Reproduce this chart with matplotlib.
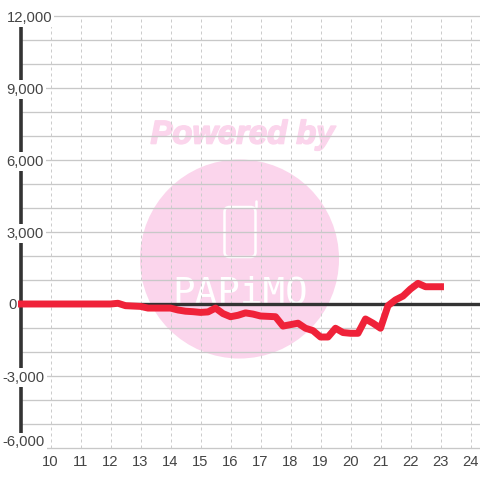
import matplotlib
matplotlib.use("Agg")
import matplotlib.pyplot as plt
import matplotlib.patheffects as pe
from matplotlib.patches import Circle, FancyBboxPatch

plt.rcParams['font.family'] = ['Liberation Sans', 'DejaVu Sans']

# data
hours = [9, 10, 11, 12, 12.25, 12.5, 13, 13.25, 13.5, 14, 14.25, 14.5, 14.75, 15, 15.25, 15.5,
         15.75, 16, 16.25, 16.5, 16.75, 17, 17.5, 17.75, 18.25, 18.5, 18.75, 19, 19.25, 19.5,
         19.75, 20, 20.25, 20.5, 20.75, 21, 21.25, 21.5, 21.75, 22, 22.25, 22.5, 22.75, 23]
values = [0, 0, 0, 0, 30, -70, -100, -170, -170, -170, -250, -300, -320, -350, -330, -170,
          -400, -530, -470, -370, -420, -500, -530, -920, -800, -1010, -1110, -1375, -1375, -1010,
          -1190, -1220, -1220, -625, -800, -1010, -70, 170, 330, 625, 860, 720, 720, 720]
x_ticks = list(range(10, 25))
y_grid = list(range(-6000, 12001, 1000))
y_ticks = [12000, 9000, 6000, 3000, 0, -3000, -6000]
y_labels = ['12,000', '9,000', '6,000', '3,000', '0', '-3,000', '-6,000']
y_label_px = [6.5, 6.5, 6.5, 6.5, 8, 2.5, 2.5]
y_label_shift = [1.5, 1.5, 1.5, 1.5, 1, 1.5, -6]

fig = plt.figure(figsize=(4.8, 4.8), dpi=100)

# watermark layer in pixel coordinates
bg = fig.add_axes([0, 0, 1, 1])
bg.set_xlim(0, 480)
bg.set_ylim(480, 0)
bg.axis('off')
pink = '#fbd5ec'
bg.add_patch(Circle((239.5, 259), 99.5, color=pink, lw=0))
bg.text(242.5, 135, 'Powered by', color=pink, fontsize=23.6, fontweight='bold', style='italic',
        ha='center', va='center', family='Liberation Sans',
        path_effects=[pe.withStroke(linewidth=1.2, foreground=pink)])
bg.add_patch(FancyBboxPatch((224.5, 207), 31, 50, boxstyle='round,pad=0,rounding_size=5',
                            fc='none', ec='white', lw=1.8))
bg.plot([255.5, 255.5], [207, 200.5], color='white', lw=1.8, solid_capstyle='round')
bg.text(240, 303, 'PAPiMO', color='white', fontsize=27, ha='center', va='baseline',
        family='DejaVu Sans Mono')

ax = fig.add_axes([0, 0, 1, 1])
ax.patch.set_alpha(0)
ax.set_xlim(10 - 50.5 / 30, 10 + 429.5 / 30)
ax.set_ylim(-176 / 0.024, 304 / 0.024)
for s in ax.spines.values():
    s.set_visible(False)
ax.set_xticks([])
ax.set_yticks([])

ax.hlines(y_grid, 9, 24.4, color='#c8c8c8', lw=0.95, zorder=1)
ax.vlines(x_ticks, -6000, 12000, color='#cccccc', lw=0.72, linestyles=(0, (3, 3)), zorder=1)
ax.vlines(9, -5500, 11667, color='#333333', lw=2.6, zorder=2)
ax.hlines(0, 9, 24.4, color='#333333', lw=2.4, zorder=2)
ax.plot(hours, values, color='#ef2239', lw=5, solid_joinstyle='round',
        solid_capstyle='projecting', zorder=3)

for v, lab, px, shift in zip(y_ticks, y_labels, y_label_px, y_label_shift):
    ax.text(10 + (px - 50.5) / 30, v - shift / 0.024, lab, color='#444444', fontsize=10.6,
            ha='left', va='center', zorder=4,
            bbox=dict(fc='white', ec='none', pad=1.5))
for t in x_ticks:
    ax.text(t, -158 / 0.024, str(t), color='#444444', fontsize=10.6, ha='center', va='center', zorder=4)

fig.savefig('out.png', dpi=100)
